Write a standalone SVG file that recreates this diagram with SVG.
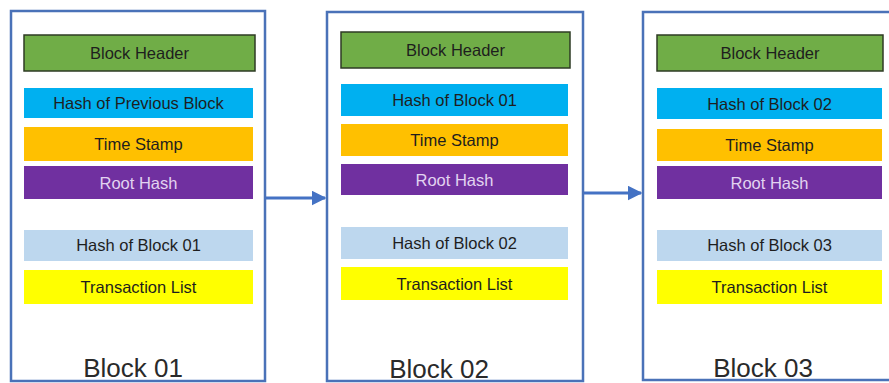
<svg xmlns="http://www.w3.org/2000/svg" width="889" height="383" viewBox="0 0 889 383">
<style>
.outer{fill:#fff;stroke:#4A72B8;stroke-width:2.5}
.hdr{fill:#70AD47;stroke:#2E3B24;stroke-width:1.5}
.cur{fill:#00B0F0}
.ts{fill:#FFC000}
.rh{fill:#7030A0}
.nx{fill:#BDD7EE}
.tl{fill:#FFFF00}
text{font-family:"Liberation Sans",Arial,sans-serif;text-anchor:middle;font-size:16.5px;fill:#1E1E1E}
.lt{fill:#E2D3F0}
.big{font-size:26px;fill:#2A2A2A}
.conn{stroke:#4472C4;stroke-width:3;fill:none}
</style>
<defs>
<marker id="ah" viewBox="0 0 10 10" refX="9" refY="5" markerWidth="5" markerHeight="5" markerUnits="strokeWidth" orient="auto">
<path d="M0,0 L10,5 L0,10 z" fill="#4472C4"/>
</marker>
</defs>
<rect x="0" y="0" width="889" height="383" fill="#fff"/>
<g id="block01">
<rect class="outer" x="11" y="11" width="254" height="370"/>
<rect class="hdr" x="24" y="35" width="231" height="36"/>
<text x="139.5" y="59">Block Header</text>
<rect class="cur" x="24" y="88" width="229" height="30"/>
<text x="138.5" y="109">Hash of Previous Block</text>
<rect class="ts" x="24" y="127" width="229" height="34"/>
<text x="138.5" y="150">Time Stamp</text>
<rect class="rh" x="24" y="166" width="229" height="33"/>
<text class="lt" x="138.5" y="189">Root Hash</text>
<rect class="nx" x="24" y="230" width="229" height="31"/>
<text x="138.5" y="251">Hash of Block 01</text>
<rect class="tl" x="24" y="270" width="229" height="34"/>
<text x="138.5" y="293">Transaction List</text>
<text class="big" x="133" y="377">Block 01</text>
</g>
<g id="block02">
<rect class="outer" x="327" y="12" width="256" height="369"/>
<rect class="hdr" x="341" y="32" width="229" height="36"/>
<text x="455.5" y="56">Block Header</text>
<rect class="cur" x="341" y="84" width="227" height="32"/>
<text x="454.5" y="106">Hash of Block 01</text>
<rect class="ts" x="341" y="124" width="227" height="32"/>
<text x="454.5" y="146">Time Stamp</text>
<rect class="rh" x="341" y="164" width="227" height="31"/>
<text class="lt" x="454.5" y="186">Root Hash</text>
<rect class="nx" x="341" y="227" width="227" height="32"/>
<text x="454.5" y="249">Hash of Block 02</text>
<rect class="tl" x="341" y="267" width="227" height="33"/>
<text x="454.5" y="290">Transaction List</text>
<text class="big" x="439" y="378">Block 02</text>
</g>
<g id="block03">
<rect class="outer" x="643" y="12" width="260" height="368"/>
<rect class="hdr" x="657" y="35" width="226" height="36"/>
<text x="770" y="59">Block Header</text>
<rect class="cur" x="657" y="88" width="225" height="31"/>
<text x="769.5" y="110">Hash of Block 02</text>
<rect class="ts" x="657" y="129" width="225" height="32"/>
<text x="769.5" y="151">Time Stamp</text>
<rect class="rh" x="657" y="166" width="225" height="33"/>
<text class="lt" x="769.5" y="189">Root Hash</text>
<rect class="nx" x="657" y="230" width="225" height="31"/>
<text x="769.5" y="251">Hash of Block 03</text>
<rect class="tl" x="657" y="270" width="225" height="34"/>
<text x="769.5" y="293">Transaction List</text>
<text class="big" x="763" y="377">Block 03</text>
</g>
<g id="connectors">
<line class="conn" x1="266" y1="198" x2="325" y2="198" marker-end="url(#ah)"/>
<line class="conn" x1="584" y1="193" x2="641" y2="193" marker-end="url(#ah)"/>
</g>
</svg>
